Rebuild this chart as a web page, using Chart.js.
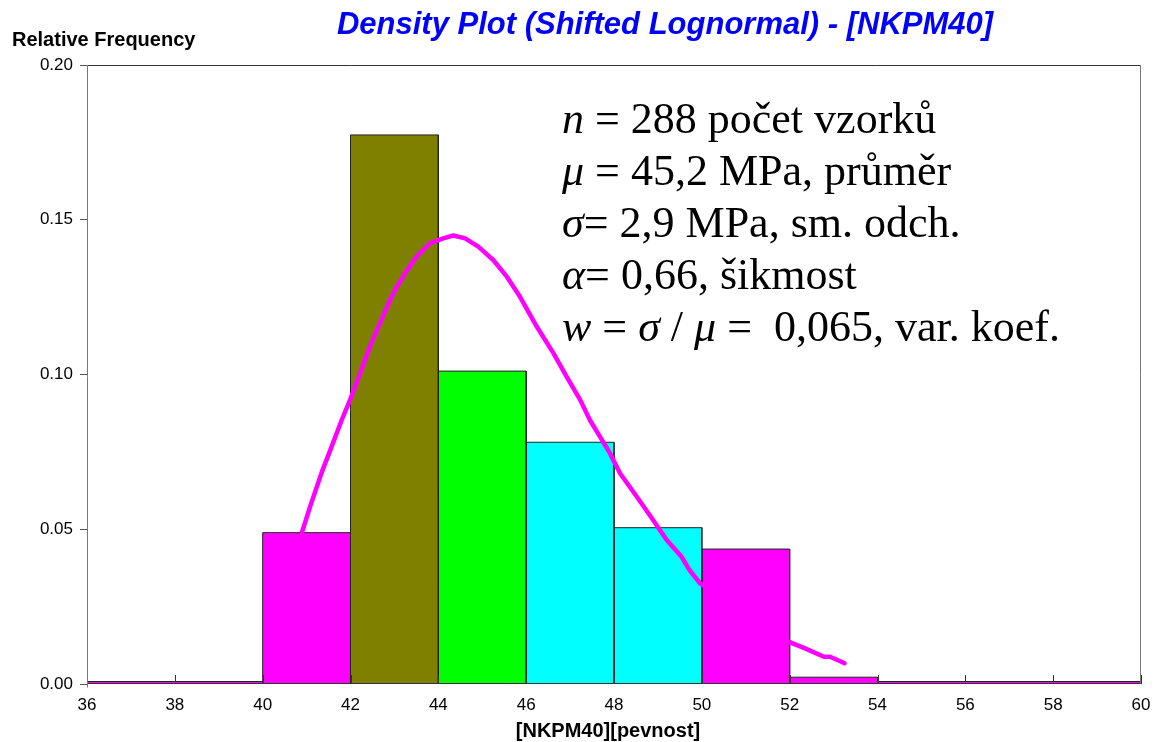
<!DOCTYPE html>
<html><head><meta charset="utf-8">
<script src="https://cdn.jsdelivr.net/npm/chart.js@4.4.1/dist/chart.umd.min.js"></script>
<style>html,body{margin:0;padding:0;background:#fff;} #wrap{width:1155px;height:742px;}</style>
</head><body><div id="wrap"><canvas id="c" width="1155" height="742"></canvas></div>
<script>
// ---- data ----
const binStarts = [36, 40, 42, 44, 46, 48, 50, 52, 54];
const binEnds   = [40, 42, 44, 46, 48, 50, 52, 54, 60];
const binValues = [0.0008, 0.0489, 0.1774, 0.1011, 0.0781, 0.0505, 0.0436, 0.0022, 0.0008];
const binColors = ['#FF00FF', '#FF00FF', '#808000', '#00FF00', '#00FFFF', '#00FFFF', '#FF00FF', '#FF00FF', '#FF00FF'];

const curveX = [40.89, 41.08, 41.34, 41.57, 41.80, 41.99, 42.22, 42.44, 42.67, 42.97, 43.24, 43.50, 43.81, 44.11, 44.34, 44.61, 44.91, 45.25, 45.56, 45.86, 46.24, 46.62, 46.92, 47.23, 47.45, 47.68, 47.91, 48.14, 48.52, 48.89, 49.20, 49.54, 49.72, 49.96, 51.97, 52.35, 52.78, 52.92, 53.25];
const curveY = [0.0488, 0.0573, 0.0682, 0.0767, 0.0853, 0.0918, 0.1005, 0.1090, 0.1166, 0.1262, 0.1327, 0.1380, 0.1424, 0.1440, 0.1449, 0.1440, 0.1413, 0.1370, 0.1316, 0.1251, 0.1155, 0.1069, 0.0993, 0.0918, 0.0853, 0.0799, 0.0745, 0.0680, 0.0605, 0.0530, 0.0465, 0.0411, 0.0368, 0.0325, 0.0137, 0.0115, 0.0088, 0.0088, 0.0067];

const xTicks = [36, 38, 40, 42, 44, 46, 48, 50, 52, 54, 56, 58, 60];
const yTicks = [0, 0.05, 0.10, 0.15, 0.20];

const titleText = 'Density Plot (Shifted Lognormal) - [NKPM40]';
const yAxisTitle = 'Relative Frequency';
const xAxisTitle = '[NKPM40][pevnost]';
const statsLines = [
  [['n', true], [' = 288 počet vzorků', false]],
  [['μ', true], [' = 45,2 MPa, průměr', false]],
  [['σ', true], ['= 2,9 MPa, sm. odch.', false]],
  [['α', true], ['= 0,66, šikmost', false]],
  [['w', true], [' = ', false], ['σ', true], [' / ', false], ['μ', true], [' =  0,065, var. koef.', false]]
];

// ---- datasets ----
const barSets = binStarts.map((s, i) => ({
  data: [{x: s, y: 0}, {x: s, y: binValues[i]}, {x: binEnds[i], y: binValues[i]}, {x: binEnds[i], y: 0}],
  fill: 'origin',
  backgroundColor: binColors[i],
  borderColor: '#222222',
  borderWidth: 1,
  pointRadius: 0,
  tension: 0,
  order: 2
}));
const curveSet = {
  data: curveX.map((x, i) => ({x: x, y: curveY[i]})),
  borderColor: '#FF00FF',
  borderWidth: 4.5,
  fill: false,
  pointRadius: 0,
  tension: 0,
  borderJoinStyle: 'round',
  borderCapStyle: 'round',
  order: 1
};

const decor = {
  id: 'decor',
  afterDatasetsDraw(chart) {
    const {ctx, chartArea: a, scales: {x}} = chart;
    ctx.save();
    ctx.lineWidth = 1;
    ctx.strokeStyle = '#333';
    xTicks.forEach(v => {
      const px = Math.round(x.getPixelForValue(v)) + 0.5;
      ctx.beginPath(); ctx.moveTo(px, a.bottom); ctx.lineTo(px, a.bottom - 9); ctx.stroke();
    });
    const L = Math.round(a.left) + 0.5, R = Math.round(a.right) - 0.5, T = Math.round(a.top) + 0.5, B = Math.round(a.bottom) - 0.5;
    ctx.strokeStyle = '#333';
    ctx.beginPath(); ctx.moveTo(L, T); ctx.lineTo(R, T); ctx.stroke();
    ctx.beginPath(); ctx.moveTo(L, B); ctx.lineTo(R, B); ctx.stroke();
    ctx.strokeStyle = '#777';
    ctx.beginPath(); ctx.moveTo(L, T); ctx.lineTo(L, B + 4); ctx.stroke();
    ctx.beginPath(); ctx.moveTo(R, T); ctx.lineTo(R, B); ctx.stroke();
    ctx.restore();
  },
  afterDraw(chart) {
    const {ctx} = chart;
    ctx.save();
    ctx.textBaseline = 'alphabetic';
    ctx.fillStyle = '#0000FF';
    ctx.font = 'italic bold 31px "Liberation Sans", Arial, sans-serif';
    ctx.textAlign = 'center';
    ctx.fillText(titleText, 665, 34);
    ctx.fillStyle = '#000';
    ctx.font = 'bold 20px "Liberation Sans", Arial, sans-serif';
    ctx.textAlign = 'left';
    ctx.fillText(yAxisTitle, 12, 46);
    ctx.textAlign = 'center';
    ctx.fillText(xAxisTitle, 608, 737);
    ctx.textAlign = 'left';
    const baseX = 562;
    statsLines.forEach((line, li) => {
      let cx = baseX;
      const by = 133 + li * 52;
      line.forEach(([t, it]) => {
        ctx.font = (it ? 'italic ' : '') + '44px "Liberation Serif", "Times New Roman", serif';
        ctx.fillText(t, cx, by);
        cx += ctx.measureText(t).width;
      });
    });
    ctx.restore();
  }
};

new Chart(document.getElementById('c'), {
  type: 'line',
  data: {datasets: [curveSet, ...barSets]},
  options: {
    responsive: false,
    animation: false,
    devicePixelRatio: 1,
    layout: {padding: {left: 0, top: 65, right: 14, bottom: 0}},
    plugins: {legend: {display: false}, tooltip: {enabled: false}, title: {display: false}},
    scales: {
      x: {
        type: 'linear', min: 36, max: 60,
        afterBuildTicks: s => { s.ticks = xTicks.map(v => ({value: v})); },
        afterFit: s => { s.height = 58; s.paddingLeft = 0; s.paddingRight = 0; },
        grid: {display: false, drawTicks: false},
        border: {display: false},
        ticks: {color: '#000', font: {family: 'Liberation Sans', size: 17}, padding: 11, maxRotation: 0, autoSkip: false}
      },
      y: {
        type: 'linear', min: 0, max: 0.2,
        afterBuildTicks: s => { s.ticks = yTicks.map(v => ({value: v})); },
        afterFit: s => { s.width = 87; s.paddingTop = 0; s.paddingBottom = 0; },
        grid: {display: true, drawOnChartArea: false, drawTicks: true, tickLength: 7, color: '#555'},
        border: {display: false},
        ticks: {color: '#000', font: {family: 'Liberation Sans', size: 17}, padding: 7, callback: v => Number(v).toFixed(2)}
      }
    }
  },
  plugins: [decor]
});
</script>
</body></html>
